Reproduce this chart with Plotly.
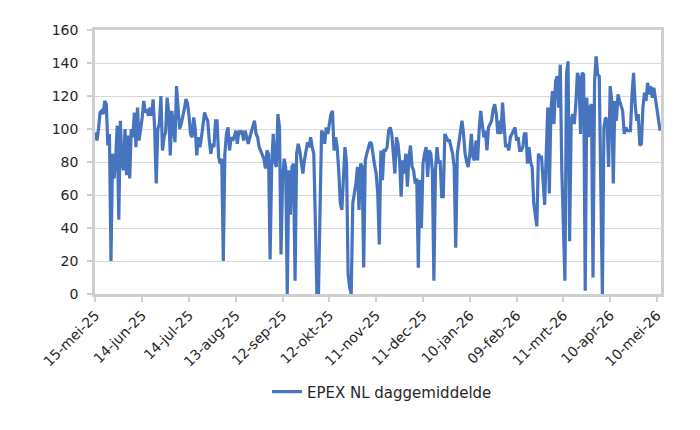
"""
EPEX NL daily average price — line chart
"""

import pandas as pd
import plotly.graph_objects as go

# ─────────────────────────────────────────────────────────────────────────────
# Data (daily averages, EUR/MWh)
# ─────────────────────────────────────────────────────────────────────────────
START_DATE = "2025-05-15"

prices_mei_jul = [
    98, 93, 100, 110, 111, 109, 117, 115, 90, 97,
    20, 85, 70, 82, 102, 45, 105, 80, 75, 100,
    72, 96, 70, 100, 95, 110, 89, 113, 93, 99,
    107, 117, 110, 112, 108, 113, 108, 118, 100, 67,
    100, 103, 120, 87, 95, 98, 119, 110, 84, 111,
    100, 92, 126, 112, 100, 103, 107, 112, 118, 116,
    108, 97, 95, 107,
]
prices_jul_sep = [
    100, 84, 95, 89, 95, 105, 110, 107, 105, 93,
    85, 91, 89, 105, 105, 83, 79, 82, 20, 85,
    97, 101, 87, 95, 93, 95, 99, 91, 99, 97,
    99, 93, 99, 95, 91, 95, 99, 101, 105, 97,
    95, 89, 87, 85, 82, 76, 87, 85, 21, 77,
    97, 80, 77, 109, 101, 24, 69, 82, 77, 0,
]
prices_sep_nov = [
    75, 48, 77, 79, 8, 85, 91, 87, 80, 73,
    81, 87, 92, 89, 95, 89, 85, 44, 0, 0,
    65, 99, 97, 91, 101, 97, 103, 109, 111, 87,
    95, 89, 75, 55, 51, 75, 89, 79, 12, 4,
    0, 55, 61, 67, 77, 51, 79, 77, 16, 81,
    85, 89, 92, 91, 83, 78, 73, 61, 30, 87,
    69, 87,
]
prices_nov_jan = [
    87, 89, 99, 101, 97, 85, 73, 95, 91, 81,
    59, 81, 73, 85, 65, 83, 90, 77, 75, 67,
    70, 16, 69, 40, 79, 85, 89, 71, 87, 85,
    75, 8, 75, 89, 79, 81, 59, 59, 97, 95,
    93, 93, 89, 85, 77, 28, 85, 93, 99, 105,
    97, 85, 80, 77, 85, 97, 83, 81, 93, 81,
    99, 111, 103, 95, 99, 87, 101, 103, 105, 112,
]
prices_jan_mrt = [
    115, 109, 97, 105, 97, 116, 102, 89, 91, 87,
    95, 97, 99, 101, 93, 95, 87, 87, 89, 97,
    97, 79, 89, 80, 77, 55, 48, 41, 85, 83,
    83, 70, 54, 85, 113, 61, 111, 123, 103, 129,
    132, 113, 139, 75, 44, 8, 133, 141, 32, 105,
]
prices_mrt_mei = [
    109, 103, 115, 134, 131, 97, 134, 133, 2, 119,
    95, 113, 115, 10, 129, 144, 133, 132, 65, 0,
    101, 107, 105, 77, 126, 117, 67, 117, 105, 121,
    117, 113, 111, 97, 101, 99, 99, 99, 121, 134,
    115, 105, 109, 90, 91, 113, 122, 117, 128, 121,
    126, 119, 125, 119, 113, 108, 99,
]

tick_dates = [
    "2025-05-15", "2025-06-14", "2025-07-14", "2025-08-13", "2025-09-12",
    "2025-10-12", "2025-11-11", "2025-12-11", "2026-01-10", "2026-02-09",
    "2026-03-11", "2026-04-10", "2026-05-10",
]
tick_labels = [
    "15-mei-25", "14-jun-25", "14-jul-25", "13-aug-25", "12-sep-25",
    "12-okt-25", "11-nov-25", "11-dec-25", "10-jan-26", "09-feb-26",
    "11-mrt-26", "10-apr-26", "10-mei-26",
]
y_ticks = [0, 20, 40, 60, 80, 100, 120, 140, 160]

SERIES_NAME = "EPEX NL daggemiddelde"

# ─────────────────────────────────────────────────────────────────────────────
# Build figure
# ─────────────────────────────────────────────────────────────────────────────
prices = (prices_mei_jul + prices_jul_sep + prices_sep_nov
          + prices_nov_jan + prices_jan_mrt + prices_mrt_mei)
dates = pd.date_range(START_DATE, periods=len(prices), freq="D")

LINE_BLUE = "#4674BE"
GRID = "#D9D9D9"
AXIS = "#D0D0D0"
TEXT = "#262626"
FONT = "DejaVu Sans, Liberation Sans, sans-serif"

fig = go.Figure()
fig.add_trace(go.Scatter(
    x=dates, y=prices,
    mode="lines",
    name=SERIES_NAME,
    line=dict(color=LINE_BLUE, width=3.2),
))

x_start = dates[0] - pd.Timedelta(hours=6)
x_end = dates[-1] + pd.Timedelta(hours=14)

fig.update_layout(
    width=700, height=430,
    margin=dict(l=87, r=47, t=22, b=144),
    paper_bgcolor="white",
    plot_bgcolor="white",
    font=dict(family=FONT, size=14, color=TEXT),
    showlegend=True,
    legend=dict(
        orientation="h",
        x=0.507, xanchor="center",
        y=-0.371, yanchor="middle",
        font=dict(family=FONT, size=15, color=TEXT),
    ),
    xaxis=dict(
        type="date",
        range=[x_start, x_end],
        tickmode="array",
        tickvals=tick_dates,
        ticktext=tick_labels,
        tickangle=-45,
        ticks="outside", ticklen=5, tickwidth=2, tickcolor=AXIS,
        showgrid=False,
        showline=True, linecolor=AXIS, linewidth=2.5, mirror=True,
        tickfont=dict(family=FONT, size=14, color=TEXT),
    ),
    yaxis=dict(
        range=[0, 160],
        tickmode="array",
        tickvals=y_ticks,
        ticks="outside", ticklen=5, tickwidth=2, tickcolor=AXIS,
        ticklabelstandoff=6,
        showgrid=True, gridcolor=GRID, gridwidth=1,
        showline=True, linecolor=AXIS, linewidth=2.5, mirror=True,
        zeroline=False,
        tickfont=dict(family=FONT, size=14, color=TEXT),
    ),
)

fig.write_html("out.html")
